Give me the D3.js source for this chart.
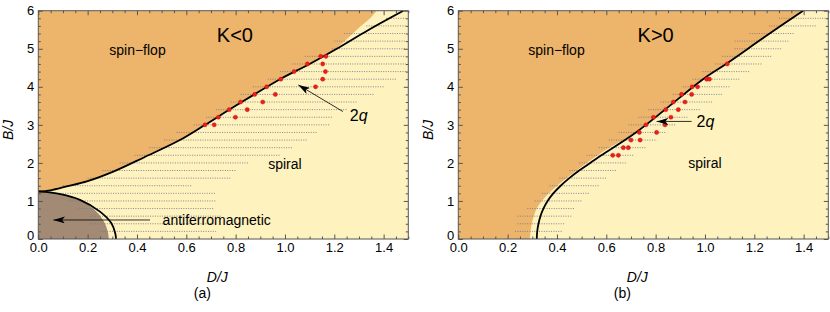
<!DOCTYPE html>
<html>
<head>
<meta charset="utf-8">
<script src="https://cdn.jsdelivr.net/npm/d3@7"></script>
<style>
  body { margin: 0; background: #fff; }
  text { font-family: "Liberation Sans", Arial, sans-serif; }
</style>
</head>
<body>
<div id="chart"></div>
<script>
// SVG area
var svgWidth = 830;
var svgHeight = 312;

// plot frames of the two panels
var panelTop = 10.7;
var panelWidth = 370;
var panelHeight = 228.3;
var panelLeft = [38.3, 458.3];

// tick labels
var xTicks = [0, 0.2, 0.4, 0.6, 0.8, 1.0, 1.2, 1.4];
var yTicks = [0, 1, 2, 3, 4, 5, 6];

// ---------- panel (a), K<0 ----------
// spin-flop / spiral boundary line [D/J, B/J]
var flopLineA = [[0, 1.25], [0.05, 1.28], [0.115, 1.38], [0.2, 1.52], [0.304, 1.77], [0.43, 2.15],
  [0.574, 2.6], [0.676, 3.0], [0.8, 3.5], [0.98, 4.2], [1.1, 4.6], [1.21, 5.0], [1.34, 5.5], [1.48, 6.0]];
// edge of the spin-flop colour fill
var flopFillA = [[0, 1.25], [0.05, 1.28], [0.115, 1.38], [0.2, 1.52], [0.304, 1.77], [0.43, 2.15],
  [0.574, 2.6], [0.676, 3.0], [0.8, 3.5], [0.98, 4.2], [1.1, 4.6], [1.2, 4.97], [1.25, 5.25],
  [1.3, 5.55], [1.345, 5.8], [1.372, 6.0]];
// antiferromagnetic boundary line
var afmLineA = [[0, 1.25], [0.09, 1.18], [0.169, 1.03], [0.25, 0.72], [0.297, 0.41], [0.312, 0.15], [0.315, 0]];
// edge of the antiferromagnetic fill
var afmFillA = [[0, 1.25], [0.09, 1.18], [0.169, 1.03], [0.235, 0.72], [0.27, 0.41], [0.283, 0.15], [0.286, 0]];
// sampled rows [B/J, D/J from, D/J to]
var rowsA = [[5.8, 1.41, 1.49], [5.6, 1.33, 1.49], [5.4, 1.24, 1.49], [5.2, 1.20, 1.49], [5.0, 1.19, 1.49],
  [4.8, 1.08, 1.49], [4.6, 1.03, 1.49], [4.4, 0.98, 1.49], [4.2, 0.93, 1.45], [4.0, 0.87, 1.40],
  [3.8, 0.82, 1.36], [3.6, 0.78, 1.29], [3.4, 0.72, 1.25], [3.2, 0.68, 1.19], [3.0, 0.63, 1.18],
  [2.8, 0.56, 1.13], [2.6, 0.51, 1.09], [2.4, 0.45, 1.03], [2.2, 0.39, 0.98], [2.0, 0.33, 0.85],
  [1.8, 0.26, 0.80], [1.6, 0.20, 0.78], [1.4, 0.10, 0.62], [1.2, 0.07, 0.72], [1.0, 0.12, 0.72],
  [0.8, 0.16, 0.71], [0.6, 0.21, 0.74], [0.4, 0.21, 0.72], [0.2, 0.25, 0.72]];
// 2q points [D/J, B/J]
var pointsA = [[0.676, 3.0], [0.713, 3.0], [0.730, 3.2], [0.799, 3.2], [0.774, 3.4], [0.847, 3.4],
  [0.820, 3.6], [0.910, 3.6], [0.877, 3.8], [0.961, 3.8], [0.926, 4.0], [1.124, 4.0],
  [0.983, 4.2], [1.153, 4.2], [1.037, 4.4], [1.164, 4.4], [1.091, 4.6], [1.153, 4.6],
  [1.145, 4.8], [1.166, 4.8]];

// ---------- panel (b), K>0 ----------
var flopLineB = [[0.318, 0], [0.32, 0.2], [0.325, 0.4], [0.333, 0.6], [0.345, 0.8], [0.362, 1.0],
  [0.385, 1.2], [0.415, 1.4], [0.45, 1.6], [0.49, 1.8], [0.535, 2.0], [0.58, 2.2], [0.72, 2.8],
  [0.838, 3.4], [0.992, 4.2], [1.09, 4.62], [1.24, 5.3], [1.398, 6.0]];
var flopFillB = [[0.29, 0], [0.298, 0.4], [0.318, 0.8], [0.352, 1.1], [0.41, 1.45], [0.5, 1.9],
  [0.6, 2.35], [0.68, 2.65], [0.74, 2.9], [0.838, 3.4], [0.992, 4.2], [1.09, 4.62], [1.24, 5.3], [1.398, 6.0]];
var rowsB = [[5.8, 1.30, 1.50], [5.6, 1.26, 1.45], [5.4, 1.18, 1.36], [5.2, 1.12, 1.34], [5.0, 1.12, 1.31],
  [4.8, 1.07, 1.27], [4.6, 1.04, 1.23], [4.4, 0.99, 1.18], [4.2, 0.95, 1.14], [4.0, 0.91, 1.10],
  [3.8, 0.87, 1.07], [3.6, 0.82, 1.03], [3.4, 0.77, 0.98], [3.2, 0.73, 0.93], [3.0, 0.69, 0.88],
  [2.8, 0.65, 0.84], [2.6, 0.61, 0.80], [2.4, 0.57, 0.76], [2.2, 0.52, 0.71], [2.0, 0.49, 0.68],
  [1.8, 0.45, 0.64], [1.6, 0.41, 0.60], [1.4, 0.37, 0.57], [1.2, 0.34, 0.53], [1.0, 0.31, 0.50],
  [0.8, 0.28, 0.47], [0.6, 0.24, 0.46], [0.4, 0.24, 0.43], [0.2, 0.23, 0.42], [0.0, 0.23, 0.41]];
var pointsB = [[1.007, 4.2], [1.018, 4.2], [0.948, 4.0], [0.97, 4.0], [0.905, 3.8], [0.946, 3.8],
  [0.872, 3.6], [0.919, 3.6], [0.841, 3.4], [0.892, 3.4], [0.791, 3.2], [0.862, 3.2],
  [0.761, 3.0], [0.838, 3.0], [0.734, 2.8], [0.804, 2.8], [0.700, 2.6], [0.737, 2.6],
  [0.669, 2.4], [0.689, 2.4], [0.626, 2.2], [0.649, 2.2], [1.09, 4.6]];

// colours
var flopColor = "#edb46b";
var spiralColor = "#fef2bf";
var afmColor = "#a38a74";

var svg = d3.select("#chart")
  .append("svg")
  .attr("width", svgWidth)
  .attr("height", svgHeight);

svg.append("defs").append("marker")
  .attr("id", "head")
  .attr("viewBox", "0 0 10 6")
  .attr("refX", 10)
  .attr("refY", 3)
  .attr("markerUnits", "userSpaceOnUse")
  .attr("markerWidth", 13)
  .attr("markerHeight", 7)
  .attr("orient", "auto")
  .append("path")
  .attr("d", "M0,0 L10,3 L0,6 L2.5,3 Z")
  .attr("fill", "#000");

var xScale = d3.scaleLinear().domain([0, 1.5]).range([0, panelWidth]);
var yScale = d3.scaleLinear().domain([0, 6]).range([panelHeight, 0]);

var smoothLine = d3.line()
  .x(d => xScale(d[0]))
  .y(d => yScale(d[1]))
  .curve(d3.curveCatmullRom);

// closes a smooth edge through the given data corners with straight segments
function closeEdge(edge, corners) {
  return smoothLine(edge) + corners.map(c => `L${xScale(c[0])},${yScale(c[1])}`).join("") + "Z";
}

function drawPanel(i, p) {
  var g = svg.append("g")
    .attr("transform", `translate(${panelLeft[i]}, ${panelTop})`);

  g.append("clipPath").attr("id", "clip" + i)
    .append("rect").attr("width", panelWidth).attr("height", panelHeight);

  var plot = g.append("g").attr("clip-path", `url(#clip${i})`);

  // spiral background
  plot.append("rect")
    .attr("width", panelWidth)
    .attr("height", panelHeight)
    .attr("fill", spiralColor);

  // spin-flop region: left of the fill edge
  plot.append("path")
    .attr("d", closeEdge(p.flopFill, [[0, 6], [0, 0]]))
    .attr("fill", flopColor);

  if (p.afmFill) {
    plot.append("path")
      .attr("d", closeEdge(p.afmFill, [[0, 0]]))
      .attr("fill", afmColor);
  }

  // sampled rows, drawn as fine dotted lines
  plot.selectAll(".row")
    .data(p.rows)
    .enter()
    .append("line")
    .attr("class", "row")
    .attr("x1", d => xScale(d[1]))
    .attr("x2", d => xScale(d[2]))
    .attr("y1", d => yScale(d[0]))
    .attr("y2", d => yScale(d[0]))
    .attr("stroke", "#7a7c90")
    .attr("stroke-width", 1)
    .attr("stroke-dasharray", "1,1.4")
    .attr("opacity", 0.9);

  // boundary lines
  plot.append("path")
    .attr("d", smoothLine(p.flopLine))
    .attr("fill", "none")
    .attr("stroke", "#000")
    .attr("stroke-width", 1.8);

  if (p.afmLine) {
    plot.append("path")
      .attr("d", smoothLine(p.afmLine))
      .attr("fill", "none")
      .attr("stroke", "#000")
      .attr("stroke-width", 1.8);
  }

  // 2q points
  plot.selectAll(".pt")
    .data(p.points)
    .enter()
    .append("circle")
    .attr("class", "pt")
    .attr("cx", d => xScale(d[0]))
    .attr("cy", d => yScale(d[1]))
    .attr("r", 2.1)
    .attr("fill", "#ee1c1c")
    .attr("stroke", "#c01010")
    .attr("stroke-width", 0.4);

  // arrows
  p.arrows.forEach(function(a) {
    g.append("line")
      .attr("x1", xScale(a[0])).attr("y1", yScale(a[1]))
      .attr("x2", xScale(a[2])).attr("y2", yScale(a[3]))
      .attr("stroke", "#000")
      .attr("stroke-width", 0.8)
      .attr("marker-end", "url(#head)");
  });

  // labels
  p.labels.forEach(function(l) {
    var t = g.append("text")
      .attr("x", xScale(l.x))
      .attr("y", yScale(l.y))
      .attr("dy", "0.35em")
      .attr("text-anchor", l.anchor || "middle")
      .style("font-size", l.size + "px")
      .attr("fill", "#000");
    if (l.italic) {
      t.append("tspan").text("2");
      t.append("tspan").style("font-style", "italic").text("q");
    } else {
      t.text(l.text);
    }
  });

  // frame with inward ticks
  var minorX = d3.range(0, 1.5001, 0.05).filter(v => Math.abs(v * 5 - Math.round(v * 5)) > 1e-6);
  var minorY = d3.range(0, 6.001, 0.2).filter(v => Math.abs(v - Math.round(v)) > 1e-6);

  var axes = [
    [d3.axisBottom(xScale).tickValues(xTicks).tickFormat(d3.format(".1f")), `translate(0, ${panelHeight})`, true],
    [d3.axisTop(xScale).tickValues(xTicks).tickFormat(""), null, false],
    [d3.axisLeft(yScale).tickValues(yTicks).tickFormat(d3.format("d")), null, true],
    [d3.axisRight(yScale).tickValues(yTicks).tickFormat(""), `translate(${panelWidth}, 0)`, false]
  ];
  var minors = [
    [d3.axisBottom(xScale).tickValues(minorX), `translate(0, ${panelHeight})`],
    [d3.axisTop(xScale).tickValues(minorX), null],
    [d3.axisLeft(yScale).tickValues(minorY), null],
    [d3.axisRight(yScale).tickValues(minorY), `translate(${panelWidth}, 0)`]
  ];

  axes.forEach(function(a) {
    var ax = g.append("g")
      .attr("transform", a[1])
      .call(a[0].tickSize(-4.5).tickPadding(a[2] ? 4 : 0));
    ax.select(".domain").remove();
    ax.selectAll("line").attr("stroke", "#555");
    ax.selectAll("text").style("font-size", "13px").attr("fill", "#000")
      .style("font-family", "'Liberation Sans', Arial, sans-serif");
  });
  // lift the y "0" a little so it sits just above the "0.0"
  g.selectAll(".tick text").filter(d => d === 0 && this !== null)
    .filter(function() { return d3.select(this).attr("x") < 0; })
    .attr("dy", "0.05em");
  minors.forEach(function(a) {
    var ax = g.append("g")
      .attr("transform", a[1])
      .call(a[0].tickSize(-2.5).tickFormat(""));
    ax.select(".domain").remove();
    ax.selectAll("line").attr("stroke", "#555");
  });

  g.append("rect")
    .attr("width", panelWidth)
    .attr("height", panelHeight)
    .attr("fill", "none")
    .attr("stroke", "#555")
    .attr("stroke-width", 1);

  // axis titles
  g.append("text")
    .attr("x", panelWidth / 2 - 6)
    .attr("y", panelHeight + 43)
    .attr("text-anchor", "middle")
    .style("font-size", "14px")
    .style("font-style", "italic")
    .text("D/J");

  g.append("text")
    .attr("transform", `translate(-25, ${panelHeight / 2 + 5}) rotate(-90)`)
    .attr("text-anchor", "middle")
    .style("font-size", "14px")
    .style("font-style", "italic")
    .text("B/J");

  g.append("text")
    .attr("x", panelWidth / 2 - 21)
    .attr("y", panelHeight + 54)
    .attr("dy", "0.35em")
    .attr("text-anchor", "middle")
    .style("font-size", "14px")
    .text(p.caption);
}

drawPanel(0, {
  flopLine: flopLineA, flopFill: flopFillA, afmLine: afmLineA, afmFill: afmFillA,
  rows: rowsA, points: pointsA, caption: "(a)",
  arrows: [[0.453, 0.5, 0.061, 0.5], [1.235, 3.35, 1.054, 4.05]],
  labels: [
    {text: "spin\u2212flop", x: 0.402, y: 4.97, size: 14},
    {text: "K<0", x: 0.797, y: 5.37, size: 20},
    {text: "spiral", x: 1.0, y: 1.97, size: 14},
    {text: "antiferromagnetic", x: 0.504, y: 0.5, size: 14, anchor: "start"},
    {text: "2q", x: 1.263, y: 3.26, size: 16, anchor: "start", italic: true}
  ]
});

drawPanel(1, {
  flopLine: flopLineB, flopFill: flopFillB, rows: rowsB, points: pointsB, caption: "(b)",
  arrows: [[0.946, 3.09, 0.804, 3.09]],
  labels: [
    {text: "spin\u2212flop", x: 0.398, y: 4.97, size: 14},
    {text: "K>0", x: 0.80, y: 5.37, size: 20},
    {text: "spiral", x: 1.0, y: 2.0, size: 14},
    {text: "2q", x: 0.966, y: 3.09, size: 16, anchor: "start", italic: true}
  ]
});
</script>
</body>
</html>
